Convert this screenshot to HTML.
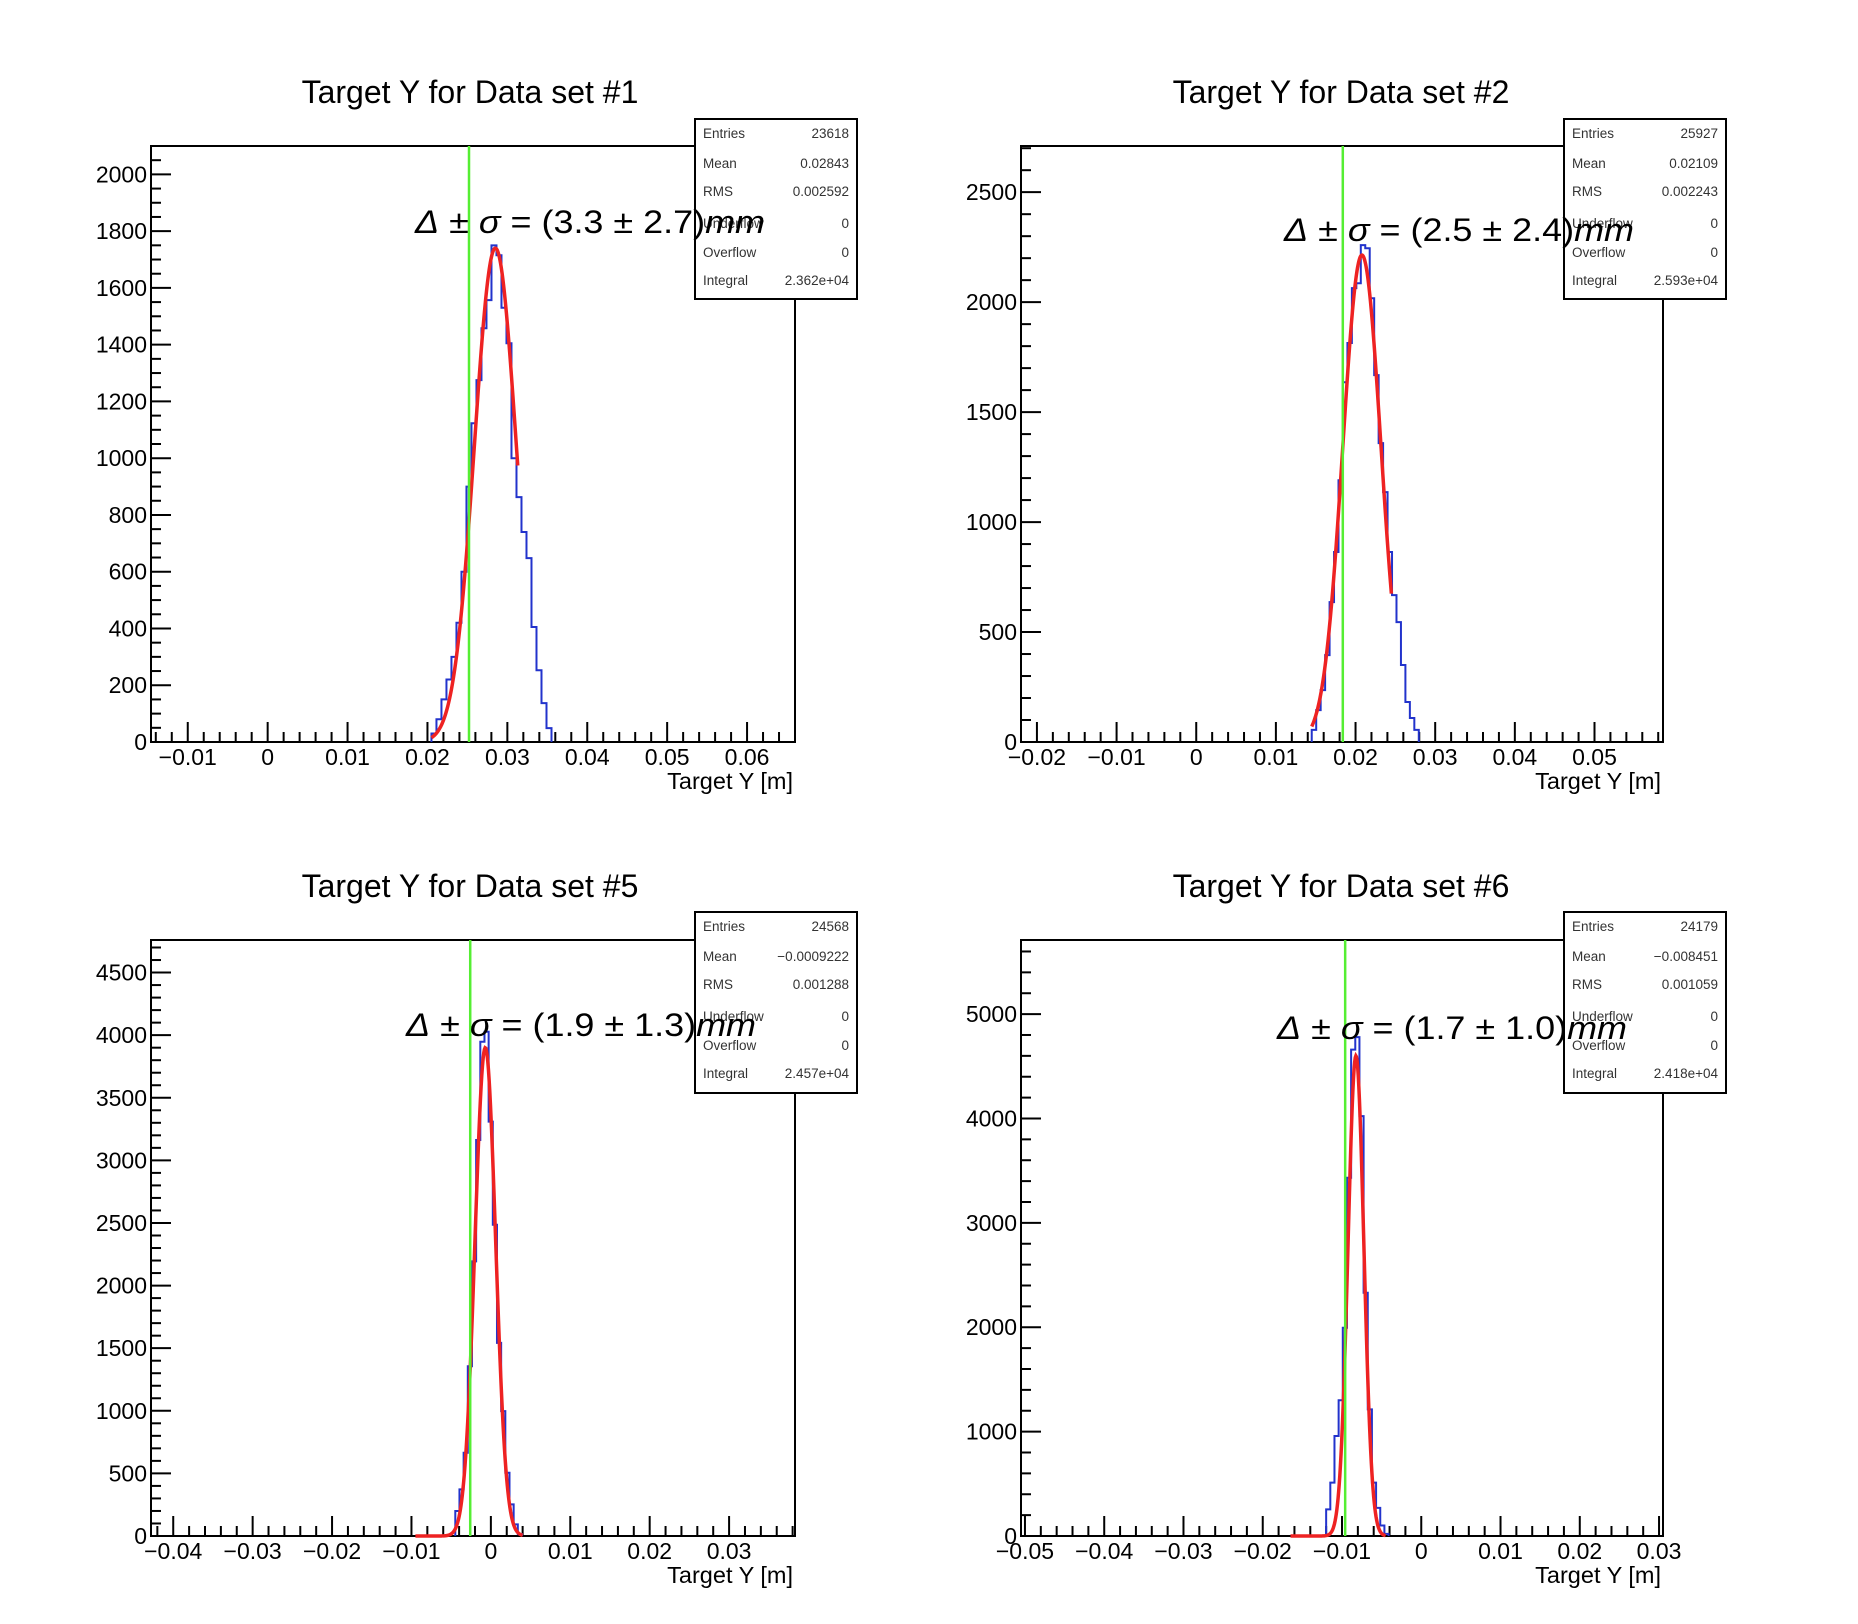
<!DOCTYPE html>
<html><head><meta charset="utf-8"><style>
html,body{margin:0;padding:0;background:#fff}
svg{display:block}
text{font-family:"Liberation Sans",sans-serif}
</style></head><body>
<svg id="c" width="1858" height="1624" viewBox="0 0 1858 1624"></svg>
<script>
// ---- data ----
const titles = ["Target Y for Data set #1","Target Y for Data set #2","Target Y for Data set #5","Target Y for Data set #6"];
const xRanges = [[-0.0146,0.066],[-0.022,0.0586],[-0.0428,0.0383],[-0.0505,0.0305]];
const yMax = [2100,2710,4760,5710];
const xTicks = [[-0.01,0,0.01,0.02,0.03,0.04,0.05,0.06],[-0.02,-0.01,0,0.01,0.02,0.03,0.04,0.05],[-0.04,-0.03,-0.02,-0.01,0,0.01,0.02,0.03],[-0.05,-0.04,-0.03,-0.02,-0.01,0,0.01,0.02,0.03]];
const yTickStep = [200,500,500,1000];
const yMinorDiv = [4,5,5,5];
const histStart = [0.0205,0.0145,-0.00448,-0.0120];
const binWidths = [0.000626,0.00056,0.000525,0.000525];
const counts1 = [30,80,150,220,300,420,600,900,1123,1275,1458,1557,1750,1715,1530,1405,1000,863,740,648,405,253,137,49];
const counts2 = [55,145,236,395,636,864,1190,1636,1814,2064,2086,2259,2245,2018,1668,1359,1136,864,668,545,350,182,109,55];
const counts3 = [200,372,665,1356,2193,3163,3947,4027,3309,2486,1542,997,505,253,93,15];
const counts4 = [255,511,958,1300,1995,3432,4660,4780,4023,2330,1213,511,270,100,20];
const fitMean = [0.0285,0.0208,-0.0007,-0.00824];
const fitSigma = [0.0026,0.0024,0.0013,0.001];
const fitAmp = [1740,2214,3900,4600];
const fitFrom = [0.0205,0.0145,-0.0095,-0.0165];
const fitTo = [0.0313,0.0245,0.0040,-0.0045];
const greenX = [0.0252,0.0184,-0.0026,-0.0096];
const deltaVal = ["3.3","2.5","1.9","1.7"];
const sigmaVal = ["2.7","2.4","1.3","1.0"];
const statEntries = ["23618","25927","24568","24179"];
const statMean = ["0.02843","0.02109","\u22120.0009222","\u22120.008451"];
const statRMS = ["0.002592","0.002243","0.001288","0.001059"];
const statIntegral = ["2.362e+04","2.593e+04","2.457e+04","2.418e+04"];
const allCounts = [counts1,counts2,counts3,counts4];

// ---- layout ----
const frames = [[151,146,795,742],[1021,146,1663,742],[151,940,795,1536],[1021,940,1663,1536]];
const titleCX = [470,1341,470,1341];
const titleY = [103,103,897,897];
const statBox = [[695,119,857,299],[1564,119,1726,299],[695,912,857,1093],[1564,912,1726,1093]];
const deltaPos = [[415,233],[1284,241],[406,1036],[1277,1039]];

const NS="http://www.w3.org/2000/svg";
const svg=document.getElementById('c');
function mk(tag,attrs,parent,txt){const e=document.createElementNS(NS,tag);for(const k in attrs)e.setAttribute(k,attrs[k]);if(txt!==undefined)e.textContent=txt;(parent||svg).appendChild(e);return e;}
function fmt(v){if(Math.abs(v)<1e-9)return "0";let s=String(+v.toFixed(3));return s.replace('-','\u2212');}

for(let p=0;p<4;p++){
  const [L,T,R,B]=frames[p];
  const [x0,x1]=xRanges[p];
  const sx=v=>L+(v-x0)/(x1-x0)*(R-L);
  const sy=v=>B-v/yMax[p]*(B-T);
  const g=mk('g',{});
  
  
  const t=mk('text',{x:titleCX[p],y:titleY[p],'text-anchor':'middle','font-size':32,fill:'#000'},g,titles[p]);
  
  
  const fr=mk('rect',{x:L,y:T,width:R-L,height:B-T,fill:'none',stroke:'#000','stroke-width':2},g);
  
  
  const xt=mk('g',{},g);
  
  
  const minor=0.002;
  for(let v=Math.ceil(x0/minor)*minor;v<=x1+1e-9;v+=minor){
    const isMaj=Math.abs(Math.round(v/0.01)*0.01-v)<1e-7;
    const X=sx(v);
    mk('line',{x1:X,x2:X,y1:B,y2:B-(isMaj?20:10),stroke:'#000','stroke-width':2},xt);
  }
  xTicks[p].forEach(v=>{
    const l=mk('text',{x:sx(v),y:B+23,'text-anchor':'middle','font-size':23,fill:'#000'},xt,fmt(v));
    
    
  });
  const xl=mk('text',{x:R-2,y:B+47,'text-anchor':'end','font-size':23.5,fill:'#000'},xt,'Target Y [m]');
  
  
  const yt=mk('g',{},g);
  
  
  const st=yTickStep[p], ms=st/yMinorDiv[p];
  for(let v=0;v<=yMax[p];v+=ms){
    const isMaj=Math.abs(v/st-Math.round(v/st))<1e-6;
    const Y=sy(v);
    mk('line',{x1:L,x2:L+(isMaj?20:10),y1:Y,y2:Y,stroke:'#000','stroke-width':2},yt);
    if(isMaj){
      const l=mk('text',{x:L-4,y:Y+8,'text-anchor':'end','font-size':23,fill:'#000'},yt,String(Math.round(v)));
      
      
    }
  }
  const c=allCounts[p],bw=binWidths[p];let d='M'+sx(histStart[p])+','+sy(0);
  c.forEach((n,i)=>{const a=sx(histStart[p]+i*bw),b=sx(histStart[p]+(i+1)*bw);d+=' L'+a+','+sy(n)+' L'+b+','+sy(n);});
  d+=' L'+sx(histStart[p]+c.length*bw)+','+sy(0);
  const h=mk('path',{d:d,fill:'none',stroke:'#2233cc','stroke-width':2},g);
  
  
  let fd='';const N=160;
  for(let i=0;i<=N;i++){const v=fitFrom[p]+(fitTo[p]-fitFrom[p])*i/N;const y=fitAmp[p]*Math.exp(-0.5*Math.pow((v-fitMean[p])/fitSigma[p],2));fd+=(i?' L':'M')+sx(v).toFixed(2)+','+sy(y).toFixed(2);}
  const f=mk('path',{d:fd,fill:'none',stroke:'#ee2222','stroke-width':3.5},g);
  
  
  const gl=mk('line',{x1:sx(greenX[p]),x2:sx(greenX[p]),y1:T,y2:B,stroke:'#55ee33','stroke-width':2.5},g);
  
  
  const [bx0,by0,bx1,by1]=statBox[p];
  const sb=mk('g',{},g);
  
  
  mk('rect',{x:bx0,y:by0,width:bx1-bx0,height:by1-by0,fill:'#fff',stroke:'#000','stroke-width':2},sb);
  const rows=[["Entries",statEntries[p]],["Mean",statMean[p]],["RMS",statRMS[p]],["Underflow","0"],["Overflow","0"],["Integral",statIntegral[p]]];
  const rowY=[19,49,77,109,138,166];
  rows.forEach((r,i)=>{
    mk('text',{x:bx0+8,y:by0+rowY[i],'font-size':13.5,fill:'#333'},sb,r[0]);
    mk('text',{x:bx1-8,y:by0+rowY[i],'font-size':13.5,fill:'#333','text-anchor':'end'},sb,r[1]);
  });
  const [dx,dy]=deltaPos[p];
  const dl=mk('text',{x:dx,y:dy,'font-size':32,fill:'#000',textLength:350,lengthAdjust:'spacingAndGlyphs'},g);
  
  
  mk('tspan',{'font-style':'italic'},dl,'\u0394');
  mk('tspan',{},dl,' \u00b1 ');
  mk('tspan',{'font-style':'italic'},dl,'\u03c3');
  mk('tspan',{},dl,' = ('+deltaVal[p]+' \u00b1 '+sigmaVal[p]+')');
  mk('tspan',{'font-style':'italic'},dl,'mm');
}
</script>
</body></html>
